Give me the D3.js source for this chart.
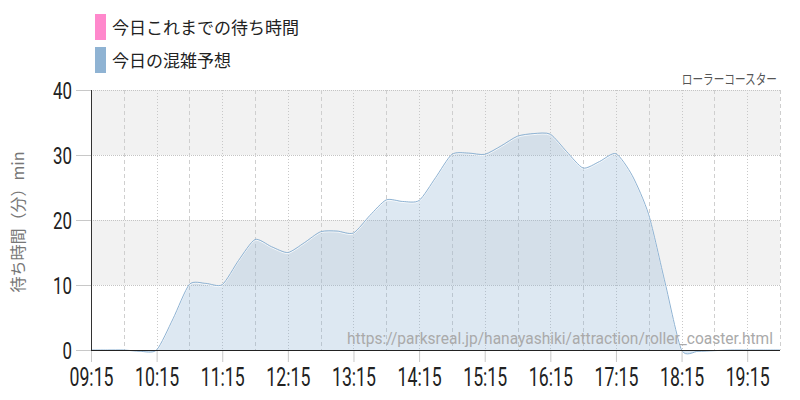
<!DOCTYPE html>
<html><head><meta charset="utf-8">
<script src="https://cdn.jsdelivr.net/npm/d3@7"></script>
<style>body{margin:0;background:#fff}svg{display:block}</style>
</head><body>
<svg id="c" width="800" height="400"></svg>
<script>
const times = ["09:15","09:30","09:45","10:00","10:15","10:30","10:45","11:00","11:15","11:30","11:45","12:00","12:15","12:30","12:45","13:00","13:15","13:30","13:45","14:00","14:15","14:30","14:45","15:00","15:15","15:30","15:45","16:00","16:15","16:30","16:45","17:00","17:15","17:30","17:45","18:00","18:15","18:30","18:45","19:00","19:15","19:30","19:45"];
const forecast = [0,0,0,-0.2,0,4.8,10.1,10.25,10.05,13.8,17.0,15.9,15.0,16.5,18.2,18.3,18.0,20.7,23.1,22.85,23.0,26.5,30.1,30.3,30.1,31.4,32.9,33.3,33.2,30.5,28.0,29.0,30.2,26.8,20.8,10.3,0,-0.2,-0.1,0,0,0,0];
const actual = [];
const xTickLabels = ["09:15","10:15","11:15","12:15","13:15","14:15","15:15","16:15","17:15","18:15","19:15"];
const yTicks = [0,10,20,30,40];
const legendLabels = ["今日これまでの待ち時間","今日の混雑予想"];
const legendColors = ["#ff88cc","#8fb3d3"];
const yTitle = "待ち時間（分）min";
const attraction = "ローラーコースター";
const sourceUrl = "https://parksreal.jp/hanayashiki/attraction/roller_coaster.html";

const toMin = s => { const [h,m] = s.split(":").map(Number); return h*60+m; };
const svg = d3.select("#c");
const L = 91, R = 780, T = 90, B = 350;
const x = d3.scaleLinear().domain([toMin(times[0]), toMin(times[times.length-1])]).range([L, R]);
const y = d3.scaleLinear().domain([0, 40]).range([B, T]);

// bands
for (let i = 0; i < yTicks.length-1; i++) {
  if (i % 2 === 1) svg.append("rect").attr("x", L).attr("width", R-L)
    .attr("y", y(yTicks[i+1])).attr("height", y(yTicks[i]) - y(yTicks[i+1])).attr("fill", "#f2f2f2");
}
// horizontal grid
svg.append("g").selectAll("line").data(yTicks.slice(1)).join("line")
  .attr("x1", L).attr("x2", R).attr("y1", d => y(d)+0.5).attr("y2", d => y(d)+0.5)
  .attr("stroke", "#c4c4c4").attr("stroke-dasharray", "1,1");
// vertical grid: half-hour dashed, tick dotted
const tickMins = xTickLabels.map(toMin);
const halfMins = tickMins.map(m => m + 30);
svg.append("g").selectAll("line").data(halfMins).join("line")
  .attr("x1", d => Math.round(x(d))+0.5).attr("x2", d => Math.round(x(d))+0.5)
  .attr("y1", T).attr("y2", B).attr("stroke", "#cfcfcf").attr("stroke-dasharray", "4,3");
svg.append("g").selectAll("line").data(tickMins.slice(1)).join("line")
  .attr("x1", d => Math.round(x(d))+0.5).attr("x2", d => Math.round(x(d))+0.5)
  .attr("y1", T).attr("y2", B).attr("stroke", "#c8c8c8").attr("stroke-dasharray", "1,2");

// area
const data = times.map((t, i) => ({t: toMin(t), v: forecast[i]}));
const curve = d3.curveCardinal.tension(0.3);
svg.append("path").datum(data)
  .attr("d", d3.area().x(d => x(d.t)).y0(y(0)).y1(d => y(d.v)).curve(curve))
  .attr("fill", legendColors[1]).attr("fill-opacity", 0.3);
svg.append("path").datum(data)
  .attr("d", d3.line().x(d => x(d.t)).y(d => y(d.v)+1).curve(curve))
  .attr("fill", "none").attr("stroke", "#fff").attr("stroke-width", 1).attr("stroke-opacity", 0.8);
svg.append("path").datum(data)
  .attr("d", d3.line().x(d => x(d.t)).y(d => y(d.v)).curve(curve))
  .attr("fill", "none").attr("stroke", legendColors[1]).attr("stroke-width", 1);
// actual (empty)
if (actual.length) {
  svg.append("path").datum(actual.map((v,i)=>({t:toMin(times[i]),v})))
    .attr("d", d3.line().x(d => x(d.t)).y(d => y(d.v)))
    .attr("fill","none").attr("stroke",legendColors[0]);
}

// x axis
const xg = svg.append("g").attr("transform", `translate(0,${B})`)
  .call(d3.axisBottom(x).tickValues(tickMins).tickSize(12).tickFormat((d,i) => xTickLabels[i]));
xg.select(".domain").remove();
xg.selectAll(".tick line").attr("stroke", "#c8c8c8");
xg.selectAll(".tick text").attr("font-family", "Roboto").attr("font-size", 25).attr("fill", "#222")
  .attr("y", 36).attr("dy", null).attr("textLength", 44).attr("lengthAdjust", "spacingAndGlyphs");

// y axis
const yg = svg.append("g").attr("transform", `translate(${L},0)`)
  .call(d3.axisLeft(y).tickValues(yTicks).tickSize(15));
yg.select(".domain").remove();
yg.selectAll(".tick line").attr("stroke", "#c8c8c8");
yg.selectAll(".tick text").attr("font-family", "Roboto").attr("font-size", 24).attr("fill", "#222")
  .attr("x", -19).attr("dy", "0.36em")
  .attr("textLength", d => String(d).length * 9.5).attr("lengthAdjust", "spacingAndGlyphs");

// axis lines
svg.append("line").attr("x1", L+0.5).attr("x2", L+0.5).attr("y1", T).attr("y2", B).attr("stroke", "#333");
svg.append("line").attr("x1", L).attr("x2", R).attr("y1", B+0.5).attr("y2", B+0.5).attr("stroke", "#222");

// y title
svg.append("text").attr("transform", `translate(24,${(T+B)/2+2}) rotate(-90)`)
  .attr("text-anchor", "middle").attr("font-family", "Noto Sans CJK JP").attr("font-size", 16)
  .attr("fill", "#777").text(yTitle);

// attraction label (narrowed with a horizontal scale)
svg.append("g").attr("transform", "translate(777,84) scale(0.76,1)")
  .append("text").attr("x", 0).attr("y", 0).attr("text-anchor", "end")
  .attr("font-family", "Noto Sans CJK JP").attr("font-size", 14).attr("fill", "#555")
  .text(attraction);

// watermark
svg.append("text").attr("x", 773).attr("y", 344).attr("text-anchor", "end")
  .attr("font-family", "Roboto").attr("font-size", 16).attr("fill", "#aaa")
  .attr("textLength", 426).attr("lengthAdjust", "spacingAndGlyphs").text(sourceUrl);

// legend
const lg = svg.append("g");
legendLabels.forEach((lab, i) => {
  lg.append("rect").attr("x", 95).attr("y", 14 + i*33).attr("width", 11).attr("height", 26).attr("fill", legendColors[i]);
  lg.append("text").attr("x", 112).attr("y", 34 + i*33).attr("font-family", "Noto Sans CJK JP")
    .attr("font-size", 17).attr("fill", "#222").text(lab);
});
</script>
</body></html>
